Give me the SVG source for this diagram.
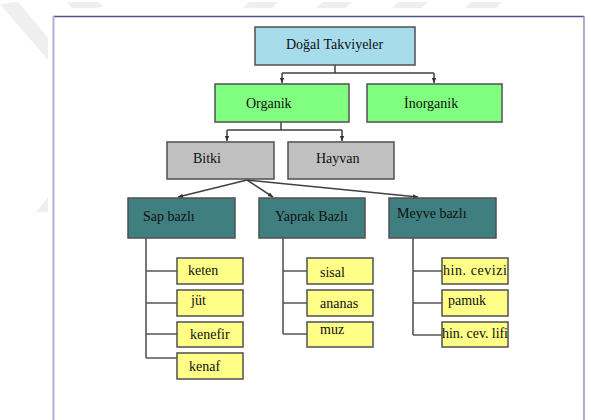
<svg xmlns="http://www.w3.org/2000/svg" width="591" height="420" viewBox="0 0 591 420">
<style>
.t{font-family:"Liberation Serif","Times New Roman",serif;font-size:14px;fill:#101010}
.box{stroke:#505050;stroke-width:1.5}
.root{fill:#a6dcec}
.grn{fill:#80ff80}
.gry{fill:#c0c0c0}
.teal{fill:#3f7f7f}
.yel{fill:#ffff88}
.con{fill:none;stroke:#404040;stroke-width:1.5}
.ln{fill:none;stroke:#555555;stroke-width:1.6}
.wm{fill:#efefef}
</style>
<defs>
<marker id="ah" markerWidth="6" markerHeight="6" refX="5" refY="3" orient="auto" markerUnits="userSpaceOnUse">
<path d="M0,0.8 L5,3 L0,5.2 Z" fill="#303030"/>
</marker>
</defs>
<rect width="591" height="420" fill="#ffffff"/>
<g id="watermark">
<path class="wm" d="M67,2 L99,2 L103,6 L99,8 L72,8 Z"/>
<path class="wm" d="M243,8 L249,2 L278,2 L272,8 Z"/>
<path class="wm" d="M316,8 L322,2 L352,2 L346,8 Z"/>
<path class="wm" d="M392,8 L398,2 L428,2 L422,8 Z"/>
<path class="wm" d="M465,8 L471,2 L502,2 L496,8 Z"/>
<path class="wm" d="M0,4 L18,2 L48,38 L48,60 Z"/>
<path class="wm" d="M36,212 L48,197 L48,212 Z"/>
</g>
<g id="frame">
<line x1="53" y1="16.5" x2="584" y2="16.5" stroke="#50508a" stroke-width="1.5"/>
<line x1="53.5" y1="16" x2="53.5" y2="420" stroke="#b0b0d4" stroke-width="2"/>
<line x1="584" y1="16" x2="584" y2="420" stroke="#9090b8" stroke-width="1.5"/>
</g>
<g id="connectors">
<path class="con" d="M335,65 V73"/>
<path class="con" d="M282,73 H434"/>
<path class="con" d="M282,73 V83" marker-end="url(#ah)"/>
<path class="con" d="M434,73 V83" marker-end="url(#ah)"/>
<path class="con" d="M281,122 V130"/>
<path class="con" d="M227,130 H342"/>
<path class="con" d="M227,130 V141" marker-end="url(#ah)"/>
<path class="con" d="M342,130 V141" marker-end="url(#ah)"/>
<path class="con" d="M247,180 L178,197" marker-end="url(#ah)"/>
<path class="con" d="M247,180 L273,197" marker-end="url(#ah)"/>
<path class="con" d="M247,180 L418,197" marker-end="url(#ah)"/>
<path class="ln" d="M146,238 V358 M146,271 H177 M146,303 H177 M146,334 H177 M146,358 H177"/>
<path class="ln" d="M283,238 V334 M283,271 H307 M283,303 H307 M283,334 H307"/>
<path class="ln" d="M413,238 V335 M413,271 H442 M413,303 H442 M413,335 H442"/>
</g>
<g id="n-dogal"><rect class="box root" x="255" y="27" width="160" height="38"/><text class="t" x="286" y="49">Doğal Takviyeler</text></g>
<g id="n-organik"><rect class="box grn" x="215" y="84" width="134" height="38"/><text class="t" x="246" y="108">Organik</text></g>
<g id="n-inorganik"><rect class="box grn" x="367" y="84" width="135" height="38"/><text class="t" x="404" y="108">İnorganik</text></g>
<g id="n-bitki"><rect class="box gry" x="167" y="142" width="107" height="37"/><text class="t" x="193" y="163">Bitki</text></g>
<g id="n-hayvan"><rect class="box gry" x="288" y="142" width="106" height="37"/><text class="t" x="316" y="163">Hayvan</text></g>
<g id="n-sap"><rect class="box teal" x="128" y="198" width="107" height="40"/><text class="t" x="143" y="221">Sap bazlı</text></g>
<g id="n-yaprak"><rect class="box teal" x="259" y="198" width="106" height="40"/><text class="t" x="275" y="221">Yaprak Bazlı</text></g>
<g id="n-meyve"><rect class="box teal" x="389" y="198" width="107" height="40"/><text class="t" x="397" y="218">Meyve bazlı</text></g>
<g id="n-keten"><rect class="box yel" x="177" y="258" width="66" height="26"/><text class="t" x="188" y="275">keten</text></g>
<g id="n-jut"><rect class="box yel" x="177" y="290" width="66" height="26"/><text class="t" x="191" y="305">jüt</text></g>
<g id="n-kenefir"><rect class="box yel" x="177" y="322" width="66" height="25"/><text class="t" x="190" y="339">kenefir</text></g>
<g id="n-kenaf"><rect class="box yel" x="177" y="353" width="66" height="26"/><text class="t" x="189" y="371">kenaf</text></g>
<g id="n-sisal"><rect class="box yel" x="307" y="258" width="66" height="26"/><text class="t" x="320" y="277">sisal</text></g>
<g id="n-ananas"><rect class="box yel" x="307" y="290" width="66" height="26"/><text class="t" x="320" y="308">ananas</text></g>
<g id="n-muz"><rect class="box yel" x="307" y="322" width="66" height="25"/><text class="t" x="320" y="334">muz</text></g>
<g id="n-hincevizi"><rect class="box yel" x="442" y="258" width="66" height="26"/><text class="t" x="443" y="275" textLength="64">hin. cevizi</text></g>
<g id="n-pamuk"><rect class="box yel" x="442" y="290" width="66" height="26"/><text class="t" x="448" y="305">pamuk</text></g>
<g id="n-hincevlifi"><rect class="box yel" x="442" y="322" width="66" height="25"/><text class="t" x="442" y="338" textLength="66">hin. cev. lifi</text></g>
</svg>
